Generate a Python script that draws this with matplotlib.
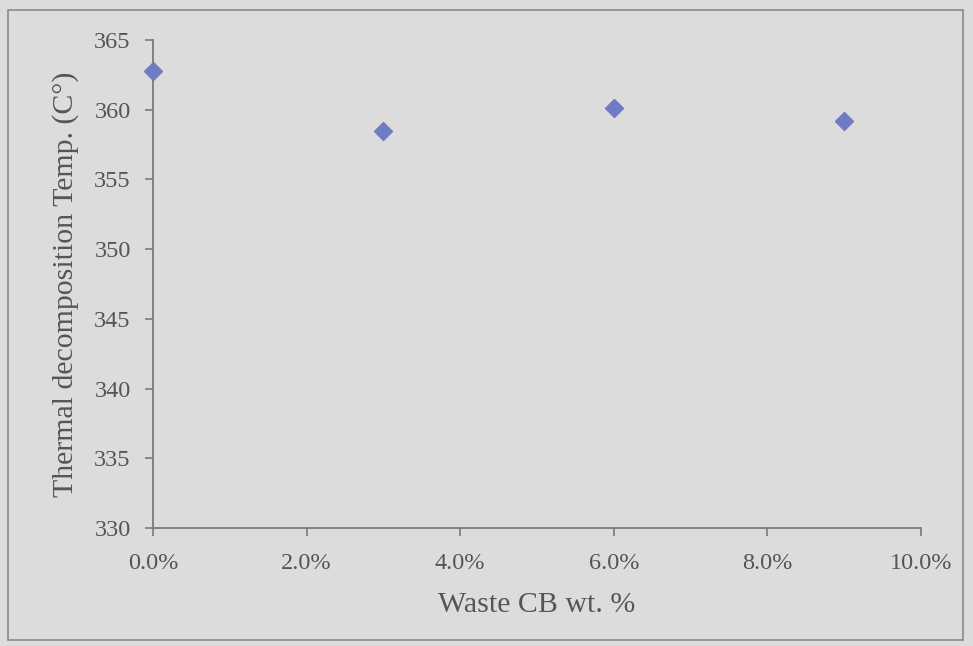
import matplotlib
matplotlib.use("Agg")
import matplotlib.pyplot as plt
from matplotlib.patches import Rectangle
from matplotlib.ticker import FuncFormatter

cb_wt = [0.0, 3.0, 6.0, 9.0]
temps = [362.8, 358.5, 360.1, 359.2]
x_ticks = [0, 2, 4, 6, 8, 10]
y_ticks = [330, 335, 340, 345, 350, 355, 360, 365]

bg = "#dcdcdc"
txt = "#555555"
plt.rcParams["font.family"] = ["Liberation Serif", "DejaVu Serif"]

fig = plt.figure(figsize=(9.73, 6.46), dpi=100, facecolor=bg)
ax = fig.add_axes([153/973, 1-528/646, 768/973, 488/646])
ax.set_facecolor(bg)

ax.plot(cb_wt, temps, linestyle="none", marker="D", markersize=9,
        color="#6f7bc2", clip_on=False, zorder=5)

ax.set_xlim(0, 10)
ax.set_ylim(330, 365)
ax.set_xticks(x_ticks)
ax.set_yticks(y_ticks)
ax.xaxis.set_major_formatter(FuncFormatter(lambda v, p: f"{v:.1f}%"))
for s in ["top", "right"]:
    ax.spines[s].set_visible(False)
for s in ["left", "bottom"]:
    ax.spines[s].set_color("#7a7a7a")
    ax.spines[s].set_linewidth(1.3)
ax.tick_params(axis="both", colors="#7a7a7a", labelcolor=txt, labelsize=17.5,
               length=6, width=1.2, direction="out")
ax.tick_params(axis="x", pad=12)
ax.tick_params(axis="y", pad=10)
ax.set_xlabel("Waste CB wt. %", fontsize=21.5, color=txt, labelpad=13)
ax.set_ylabel("Thermal decomposition Temp. (C°)", fontsize=21.5, color=txt, labelpad=11)

fig.patches.append(Rectangle((8/973, 1-640/646), (963-8)/973, (640-10)/646,
                             transform=fig.transFigure, fill=False,
                             edgecolor="#8a8a8a", linewidth=1.2))

fig.savefig("out.png", dpi=100, facecolor=bg)
